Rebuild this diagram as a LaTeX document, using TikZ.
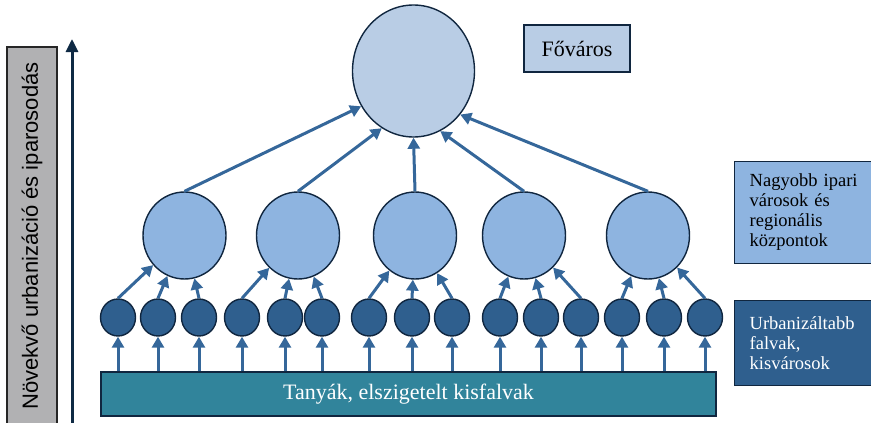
\documentclass[tikz,border=0pt]{standalone}
\usepackage{fontspec}
\setmainfont{Liberation Serif}
\setsansfont{Liberation Sans}
\usepackage{tikz}
\usetikzlibrary{shapes.geometric, arrows.meta, positioning}
\usepackage{xcolor}
\definecolor{navyLine}{HTML}{10263F}
\definecolor{arrowBlue}{HTML}{35679A}
\definecolor{capFill}{HTML}{B9CDE5}
\definecolor{regFill}{HTML}{8EB4E0}
\definecolor{vilFill}{HTML}{2F5F8E}
\definecolor{baseFill}{HTML}{31849B}
\definecolor{axisGray}{HTML}{B1B1B3}
\definecolor{axisNavy}{HTML}{0F2A44}
\tikzset{
    font=\rmfamily,
    >={Triangle[length=11pt,width=12pt]},
    % Colors
    compCap/.style={draw=navyLine, fill=capFill},
    compReg/.style={draw=navyLine, fill=regFill},
    compVil/.style={draw=navyLine, fill=vilFill},
    compBase/.style={draw=navyLine, fill=baseFill},
    % Shapes
    capital/.style={ellipse, line width=1.4pt, inner sep=0pt,
                    minimum width=122pt, minimum height=132pt, compCap},
    regional/.style={ellipse, line width=1.4pt, inner sep=0pt,
                     minimum width=83pt, minimum height=87pt, compReg},
    village/.style={ellipse, line width=1.4pt, inner sep=0pt,
                    minimum width=35pt, minimum height=37pt, compVil},
    baseBar/.style={rectangle, line width=1.4pt, minimum width=615pt, minimum height=44pt,
                    text=white, font=\fontsize{22}{26}\selectfont, compBase},
    legend/.style={rectangle, line width=1.4pt, anchor=north west, align=left,
                   inner xsep=15pt, inner ysep=0pt, text width=121pt,
                   font=\fontsize{18.5}{20}\selectfont},
    axisBox/.style={rectangle, draw=black!85, line width=1.2pt, fill=axisGray, rotate=90,
                    minimum width=378pt, minimum height=50pt, inner sep=0pt,
                    font=\sffamily\fontsize{22}{26}\selectfont},
    % Flow
    flow/.style={->, line width=3pt, arrowBlue},
    axisArrow/.style={-{Triangle[length=13pt,width=12pt]}, line width=3pt, axisNavy}
}
\begin{document}
\begin{tikzpicture}[x=1pt, y=-1pt]
\useasboundingbox (0,0) rectangle (871,423);

\node[axisBox] (axisLbl) at (32,236) {Növekvő urbanizáció és iparosodás};
\coordinate (axisBot) at (72,423);
\coordinate (axisTop) at (72,39);
\draw[axisArrow] (axisBot) -- (axisTop);

\node[capital] (cap) at (413.5,71) {};
\node[rectangle, line width=1.4pt, minimum width=106pt, minimum height=47pt,
      font=\fontsize{22}{26}\selectfont, compCap] (capLbl) at (577,48.5) {Főváros};

\node[regional] (r1) at (184.5,235.5) {};
\node[regional] (r2) at (298,235.5) {};
\node[regional] (r3) at (415,235.5) {};
\node[regional] (r4) at (524,235.5) {};
\node[regional] (r5) at (648,235.5) {};
\node[legend, minimum height=102.5pt, compReg] (regLbl) at (734,160.5)
    {Nagyobb ipari\\városok és\\regionális\\központok};

\node[village] (v1) at (118,317.5) {};
\node[village] (v2) at (158,317.5) {};
\node[village] (v3) at (199,317.5) {};
\node[village] (v4) at (242,317.5) {};
\node[village] (v5) at (285,317.5) {};
\node[village] (v6) at (322,317.5) {};
\node[village] (v7) at (369,317.5) {};
\node[village] (v8) at (412,317.5) {};
\node[village] (v9) at (452,317.5) {};
\node[village] (v10) at (500,317.5) {};
\node[village] (v11) at (541,317.5) {};
\node[village] (v12) at (581,317.5) {};
\node[village] (v13) at (622,317.5) {};
\node[village] (v14) at (664,317.5) {};
\node[village] (v15) at (705,317.5) {};
\node[legend, minimum height=85pt, text=white, compVil] (vilLbl) at (734,300)
    {Urbanizáltabb\\falvak,\\kisvárosok};

\node[baseBar] (base) at (408.5,394) {Tanyák, elszigetelt kisfalvak};

\draw[flow] (r1.north) -- (cap.214);
\draw[flow] (r2.north) -- (cap.241);
\draw[flow] (r3.north) -- (cap.south);
\draw[flow] (r4.north) -- (cap.294);
\draw[flow] (r5.north) -- (cap.317);

\draw[flow] (v1.north) -- (r1);
\draw[flow] (v2.north) -- (r1);
\draw[flow] (v3.north) -- (r1);
\draw[flow] (v4.north) -- (r2);
\draw[flow] (v5.north) -- (r2);
\draw[flow] (v6.north) -- (r2);
\draw[flow] (v7.north) -- (r3);
\draw[flow] (v8.north) -- (r3);
\draw[flow] (v9.north) -- (r3);
\draw[flow] (v10.north) -- (r4);
\draw[flow] (v11.north) -- (r4);
\draw[flow] (v12.north) -- (r4);
\draw[flow] (v13.north) -- (r5);
\draw[flow] (v14.north) -- (r5);
\draw[flow] (v15.north) -- (r5);

\draw[flow] (base.north -| v1) -- (v1.south);
\draw[flow] (base.north -| v2) -- (v2.south);
\draw[flow] (base.north -| v3) -- (v3.south);
\draw[flow] (base.north -| v4) -- (v4.south);
\draw[flow] (base.north -| v5) -- (v5.south);
\draw[flow] (base.north -| v6) -- (v6.south);
\draw[flow] (base.north -| v7) -- (v7.south);
\draw[flow] (base.north -| v8) -- (v8.south);
\draw[flow] (base.north -| v9) -- (v9.south);
\draw[flow] (base.north -| v10) -- (v10.south);
\draw[flow] (base.north -| v11) -- (v11.south);
\draw[flow] (base.north -| v12) -- (v12.south);
\draw[flow] (base.north -| v13) -- (v13.south);
\draw[flow] (base.north -| v14) -- (v14.south);
\draw[flow] (base.north -| v15) -- (v15.south);

\end{tikzpicture}
\end{document}
